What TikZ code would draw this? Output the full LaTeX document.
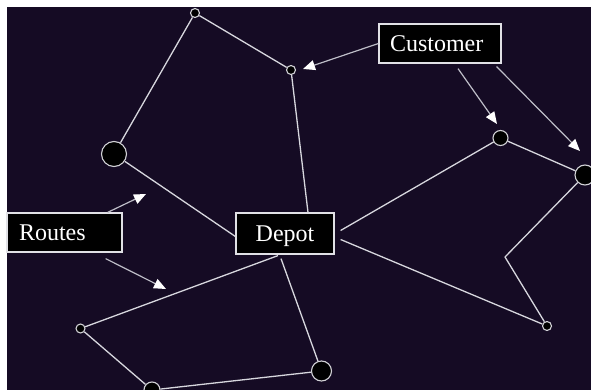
\documentclass[tikz,border=0pt]{standalone}
\usepackage{fontspec}
\setmainfont{Liberation Serif}
\usetikzlibrary{arrows.meta,calc}
\definecolor{night}{RGB}{21,11,36}
\definecolor{routeline}{RGB}{215,215,222}
\definecolor{stopline}{RGB}{210,210,215}
\definecolor{boxline}{RGB}{225,225,230}
\definecolor{pointerline}{RGB}{190,190,200}
\begin{document}
\begin{tikzpicture}[x=1pt,y=-1pt,
  stop/.style={circle,draw=stopline,fill=black,line width=1.1pt,inner sep=0pt},
  route/.style={draw=routeline,line width=1.3pt,line join=round},
  labelbox/.style={draw=boxline,fill=black,line width=1.2pt,text=white,
    font=\fontsize{24}{28}\selectfont,text height=16pt,text depth=0pt,
    inner ysep=0pt,minimum height=39pt},
  pointer/.style={draw=pointerline,line width=1.2pt,
    -{Triangle[length=12pt,width=10pt,color=white]}}]

% canvas
\fill[white] (0,0) rectangle (591,390);
\fill[night] (7,7) rectangle (591,390);
\useasboundingbox (0,0) rectangle (591,390);

% customers
\node[stop,minimum size=9pt]  (a) at (195,13) {};
\node[stop,minimum size=9pt]  (b) at (291,70) {};
\node[stop,minimum size=25pt] (c) at (114,154) {};
\node[stop,minimum size=15pt] (d) at (500.5,138) {};
\node[stop,minimum size=20pt] (e) at (585,175) {};
\node[stop,minimum size=9pt]  (f) at (547,326) {};
\node[stop,minimum size=9pt]  (g) at (80.5,328.5) {};
\node[stop,minimum size=16pt] (h) at (152,390) {};
\node[stop,minimum size=20pt] (i) at (321.5,371) {};

% labels
\node[labelbox,minimum width=98pt,minimum height=41pt] (depot) at (285,233.5) {Depot};
\node[labelbox,align=left,text width=91pt,inner xsep=12pt] (routes) at (64.5,232.5) {Routes};
\node[labelbox,align=left,text width=100pt,inner xsep=11pt] (customer) at (440,43.5) {Customer};

% route end points at the depot
\coordinate (dtop)    at ($(depot.north)+(23,0)$);
\coordinate (dleft)   at ($(depot.west)+(0,3)$);
\coordinate (dright1) at ($(depot.east)+(6,-3)$);
\coordinate (dright2) at ($(depot.east)+(6,6)$);
\coordinate (dbot1)   at ($(depot.south)+(-7,1)$);
\coordinate (dbot2)   at ($(depot.south)+(-4,4)$);
\coordinate (kink)    at (505,257);

% routes
\draw[route] (dleft) -- (c) -- (a) -- (b) -- (dtop);
\draw[route] (dright1) -- (d) -- (e) -- (kink) -- (f) -- (dright2);
\draw[route] (dbot1) -- (g) -- (h) -- (i) -- (dbot2);

% pointers
\coordinate (cs2) at ($(customer.south)+(18,5)$);
\coordinate (cs3) at ($(customer.south east)+(-5,3)$);
\coordinate (rs1) at ($(routes.north east)+(-15,0)$);
\coordinate (rs2) at ($(routes.south east)+(-17,6)$);
\coordinate (tipb) at (303,69);
\coordinate (tipd) at (497,124);
\coordinate (tipe) at (580,151);
\coordinate (tipr1) at (146,194);
\coordinate (tipr2) at (166,289);

\draw[pointer] (customer.west) -- (tipb);
\draw[pointer] (cs2) -- (tipd);
\draw[pointer] (cs3) -- (tipe);
\draw[pointer] (rs1) -- (tipr1);
\draw[pointer] (rs2) -- (tipr2);
\end{tikzpicture}
\end{document}
